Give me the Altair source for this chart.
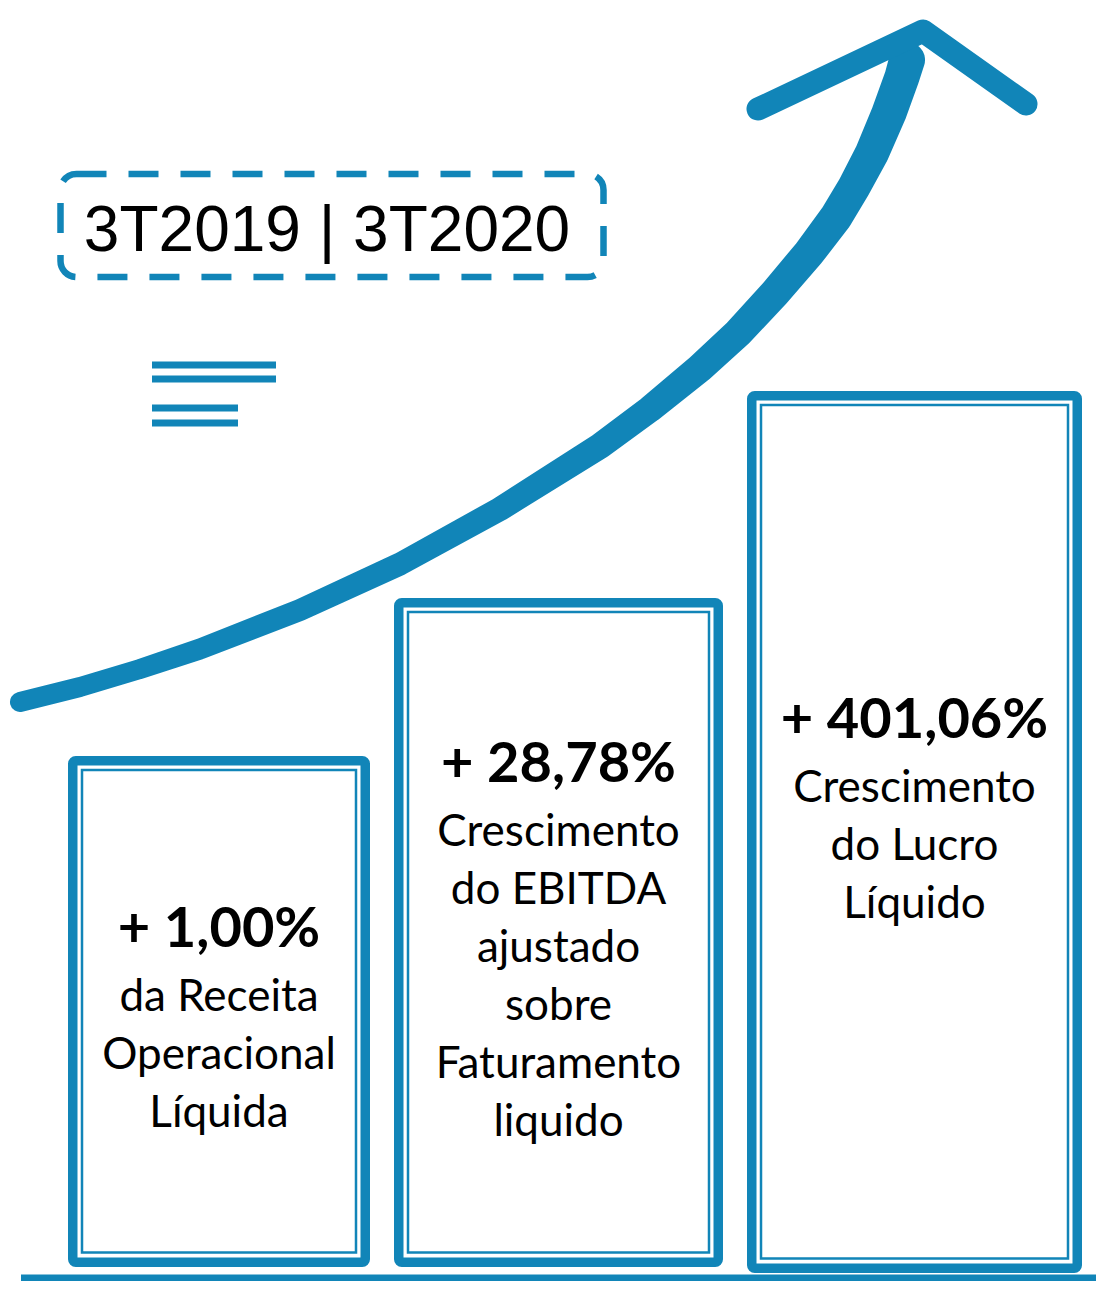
import altair as alt
import pandas as pd

BLUE = "#1185b8"

# ---- values (page pixel coordinates) ----
bar_names = ["Receita", "EBITDA", "Lucro"]
bar_left = [68, 394, 747]
bar_right = [370, 723, 1082]
bar_top = [756, 598, 391]
bar_bottom = [1267, 1267, 1273]

value_labels = ["+ 1,00%", "+ 28,78%", "+ 401,06%"]
value_baselines = [947, 782, 738]
desc_lines = [
    ["da Receita", "Operacional", "Líquida"],
    ["Crescimento", "do EBITDA", "ajustado", "sobre", "Faturamento", "liquido"],
    ["Crescimento", "do Lucro", "Líquido"],
]

title_text = "3T2019 | 3T2020"
title_x = [327]
title_y = [251]
box_x = [60.5, 603.5]
box_y = [174, 277]

icon_x1 = [152, 152, 152, 152]
icon_x2 = [276, 276, 238, 238]
icon_y = [365, 379, 408, 423]

curve_x = [20, 80, 140, 200, 300, 400, 500, 600, 650, 700, 738, 775, 809, 836, 854, 872, 889, 902, 907]
curve_y = [702, 687, 669, 649, 610, 564, 509, 446, 409, 368, 333, 293, 253, 217, 187, 153, 113, 77, 60]
curve_w = [20, 20, 20, 21, 22, 23, 24, 26, 27, 29, 30, 31, 32, 33, 33, 34, 35, 35, 36]

head_x = [758, 923, 1026]
head_y = [109, 31, 104]

ground_x = [21, 1104]
ground_y = [1278]

# ---- scales: map page pixels onto the plot area ----
W, H = 1088, 1273
XS = alt.Scale(domain=[8, 8 + W], nice=False, zero=False)
YS = alt.Scale(domain=[8, 8 + H], nice=False, zero=False, reverse=True)


def X(f):
    return alt.X(f, type="quantitative", scale=XS, axis=None)


def Y(f):
    return alt.Y(f, type="quantitative", scale=YS, axis=None)


# bars (outer thick frame and inner thin frame)
OUT_SW = 9.5
IN_INSET = 14
bars = pd.DataFrame({
    "name": bar_names,
    "l": bar_left, "r": bar_right, "t": bar_top, "b": bar_bottom,
})
bars["ol"] = bars["l"] + OUT_SW / 2
bars["or"] = bars["r"] - OUT_SW / 2
bars["ot"] = bars["t"] + OUT_SW / 2
bars["ob"] = bars["b"] - OUT_SW / 2
bars["il"] = bars["l"] + IN_INSET
bars["ir"] = bars["r"] - IN_INSET
bars["it"] = bars["t"] + IN_INSET
bars["ib"] = bars["b"] - IN_INSET - 0.5
bars["cx"] = (bars["l"] + bars["r"]) / 2

outer = alt.Chart(bars).mark_rect(
    fill="#ffffff", fillOpacity=0, stroke=BLUE, strokeWidth=OUT_SW, cornerRadius=3
).encode(x=X("ol"), x2="or", y=Y("ot"), y2="ob")

inner = alt.Chart(bars).mark_rect(
    fill="#ffffff", fillOpacity=0, stroke=BLUE, strokeWidth=2.5
).encode(x=X("il"), x2="ir", y=Y("it"), y2="ib")

vals = pd.DataFrame({"cx": bars["cx"], "y": value_baselines, "t": value_labels})
val_text = alt.Chart(vals).mark_text(
    font="Lato", fontSize=56, fontWeight="bold", color="#000000",
    align="center", baseline="alphabetic"
).encode(x=X("cx"), y=Y("y"), text="t:N")

rows = []
for i, lines in enumerate(desc_lines):
    for j, s in enumerate(lines):
        rows.append({"cx": bars["cx"][i], "y": value_baselines[i] + 64 + 58 * j, "t": s})
desc = pd.DataFrame(rows)
desc_text = alt.Chart(desc).mark_text(
    font="Lato", fontSize=44, color="#000000", align="center", baseline="alphabetic"
).encode(x=X("cx"), y=Y("y"), text="t:N")

# title with dashed rounded box
box = alt.Chart(pd.DataFrame({"x": [box_x[0]], "x2": [box_x[1]], "y": [box_y[0]], "y2": [box_y[1]]})).mark_rect(
    fill="#ffffff", fillOpacity=0, stroke=BLUE, strokeWidth=6.5, strokeDash=[30, 22], cornerRadius=16
).encode(x=X("x"), x2="x2", y=Y("y"), y2="y2")

title = alt.Chart(pd.DataFrame({"x": title_x, "y": title_y, "t": [title_text]})).mark_text(
    font="Liberation Sans", fontSize=64, color="#000000", align="center", baseline="alphabetic"
).encode(x=X("x"), y=Y("y"), text="t:N")

# small "lines" icon
icon = alt.Chart(pd.DataFrame({"x": icon_x1, "x2": icon_x2, "y": icon_y})).mark_rule(
    color=BLUE, strokeWidth=7, strokeCap="butt"
).encode(x=X("x"), x2="x2", y=Y("y"))

# growth arrow: shaft (trail with widening stroke) and chevron head
curve = pd.DataFrame({"x": curve_x, "y": curve_y, "w": curve_w, "o": list(range(len(curve_x)))})
shaft = alt.Chart(curve).mark_trail(color=BLUE).encode(
    x=X("x"), y=Y("y"), size=alt.Size("w:Q", scale=None, legend=None), order="o:Q"
)

head = alt.Chart(pd.DataFrame({"x": head_x, "y": head_y, "o": [0, 1, 2]})).mark_line(
    color=BLUE, strokeWidth=23, strokeCap="round", strokeJoin="round"
).encode(x=X("x"), y=Y("y"), order="o:Q")

# ground line
ground = alt.Chart(pd.DataFrame({"x": [ground_x[0]], "x2": [ground_x[1]], "y": ground_y})).mark_rule(
    color=BLUE, strokeWidth=7, strokeCap="butt"
).encode(x=X("x"), x2="x2", y=Y("y"))

chart = alt.layer(
    shaft, head, outer, inner, val_text, desc_text, box, title, icon, ground
).properties(
    width=W, height=H, padding=0, background="#ffffff",
    autosize=alt.AutoSizeParams(type="none")
).configure_view(stroke=None)

chart.save("out.html", embed_options={"renderer": "svg", "actions": False})
